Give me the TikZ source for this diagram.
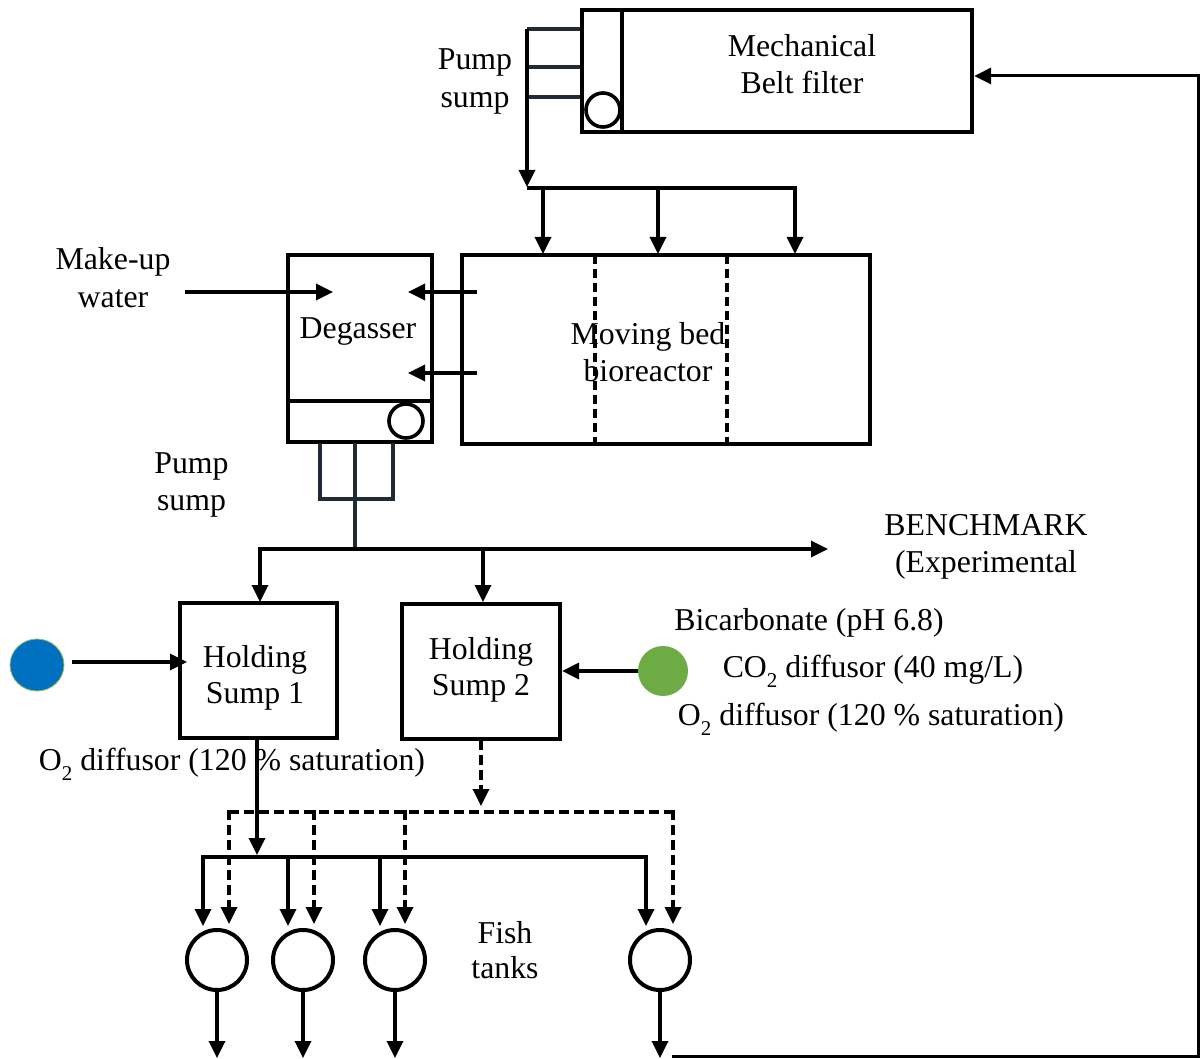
\documentclass[tikz,border=0pt]{standalone}
\usepackage{fontspec}
\setmainfont{Liberation Serif}
\usetikzlibrary{arrows.meta,shapes.geometric}
\definecolor{blueO}{HTML}{0070C0}
\definecolor{greenedge}{HTML}{9BBB59}
\definecolor{greenC}{HTML}{6DAB45}
\definecolor{pipecol}{HTML}{222A35}
\newcommand{\subtwo}{\raisebox{-0.32em}{\fontsize{21}{21}\selectfont 2}}
\begin{document}
\begin{tikzpicture}[x=1pt,y=-1pt,
  every node/.style={font=\fontsize{31.8}{37}\selectfont},
  box/.style={draw, line width=4.2pt, inner sep=0pt},
  lbl/.style={align=center, text height=21pt, text depth=7pt, inner sep=0pt},
  conn/.style={line width=3.4pt, -{Triangle[length=17pt,width=16pt]}},
  solidline/.style={line width=3.4pt},
  dconn/.style={conn, dash pattern=on 10pt off 5pt},
  dashline/.style={line width=3.4pt, dash pattern=on 10pt off 5pt},
  pipe/.style={line width=3.2pt, draw=pipecol},
  pumpc/.style={circle, draw, line width=3.6pt, minimum size=34pt, inner sep=0pt},
  tank/.style={circle, draw, line width=4pt, minimum size=60pt, inner sep=0pt},
]
\useasboundingbox (0,0) rectangle (1203,1059);

% ---------- Mechanical belt filter ----------
\node[box, minimum width=390pt, minimum height=122pt] (belt) at (777,71) {};
\draw[line width=4.2pt] (622,10) -- (622,132);
\node[pumpc] (pump1) at (603,110) {};
\node[lbl] (beltlbl) at (802,87) {Mechanical\\Belt filter};
\node[lbl, font=\fontsize{31.8}{38}\selectfont] (ps1lbl) at (475,101) {Pump\\sump};
\coordinate (pa) at (527,29);
\coordinate (pb) at (527,67);
\coordinate (pc) at (527,97);
\draw[pipe] (pa) -- (belt.west |- pa);
\draw[pipe] (pb) -- (belt.west |- pb);
\draw[pipe] (pc) -- (belt.west |- pc);
\coordinate (hdr) at (527,188);
\draw[conn] (pa) -- (527,187);
\draw[solidline] (hdr) -- (795,188);

% ---------- Moving bed bioreactor ----------
\node[box, minimum width=408pt, minimum height=189pt] (mbbr) at (666,349.5) {};
\draw[line width=3.4pt, dash pattern=on 9pt off 5pt] (595,255) -- (595,444);
\draw[line width=3.4pt, dash pattern=on 9pt off 5pt] (727,255) -- (727,444);
\node[lbl] (mbbrlbl) at (648,375) {Moving bed\\bioreactor};
\draw[conn] (543,186.3) -- (543,254);
\draw[conn] (658,186.3) -- (658,254);
\draw[conn] (795,186.3) -- (795,254);

% ---------- Degasser ----------
\node[box, minimum width=144pt, minimum height=187pt] (degas) at (360,348.5) {};
\draw[line width=4.2pt] (288,401) -- (432,401);
\node[pumpc] (pump2) at (406,421) {};
\node[lbl] (deglbl) at (358,332) {Degasser};
\node[lbl, font=\fontsize{31.8}{38}\selectfont] (mulbl) at (113,301) {Make-up\\water};
\coordinate (mu) at (185,292);
\draw[conn] (mu) -- (333,292);
\draw[conn] (477,292) -- (408,292);
\draw[conn] (477,373) -- (408,373);

% pipes below degasser
\node[lbl, font=\fontsize{31.8}{37}\selectfont] (ps2lbl) at (191.5,503) {Pump\\sump};
\draw[pipe] (320,443) -- (320,499) -- (393,499) -- (393,443);
\draw[pipe] (355,443) -- (355,549);
\coordinate (hdr2) at (260,549);
\draw[conn] (hdr2) -- (828,549);
\node[lbl, font=\fontsize{31.8}{37}\selectfont] (bench) at (986,565) {BENCHMARK\\(Experimental};

% ---------- Holding sumps ----------
\node[box, minimum width=157pt, minimum height=135pt] (hs1) at (258.5,670.5) {};
\node[box, minimum width=158pt, minimum height=135pt] (hs2) at (481,671.5) {};
\node[lbl, font=\fontsize{31.8}{36}\selectfont] (hs1lbl) at (255,696) {Holding\\Sump 1};
\node[lbl, font=\fontsize{31.8}{36}\selectfont] (hs2lbl) at (481,688) {Holding\\Sump 2};
\draw[conn] (260,547.3) -- (260,602);
\draw[conn] (483,547.3) -- (483,602);

\node[ellipse, fill=blueO, draw=greenedge, line width=0.8pt, minimum width=54pt, minimum height=52pt, inner sep=0pt] (o2a) at (37,665) {};
\draw[conn] (72,662) -- (187,662);
\node[circle, fill=greenC, minimum size=50pt, inner sep=0pt] (co2) at (663,671) {};
\draw[conn] (co2.west) -- (hs2.east |- co2.west);

\node[lbl] (bic) at (809,623) {Bicarbonate (pH 6.8)};
\node[lbl] (co2lbl) at (873,670) {CO\subtwo{} diffusor (40 mg/L)};
\node[lbl] (o2rlbl) at (871,718) {O\subtwo{} diffusor (120 \% saturation)};

% ---------- Distribution to fish tanks ----------
\draw[conn] (257,738) -- (257,855);
\draw[solidline] (203,857) -- (646,857);
\draw[dconn] (481,740) -- (481,806);
\draw[dashline] (229,812) -- (673,812);
\node[lbl] (o2llbl) at (232,763) {O\subtwo{} diffusor (120 \% saturation)};

\node[tank] (t1) at (217,960) {};
\node[tank] (t2) at (303,960) {};
\node[tank] (t3) at (395,960) {};
\node[tank] (t4) at (660,960) {};
\node[lbl, font=\fontsize{31.8}{35}\selectfont] (fish) at (505,971) {Fish\\tanks};

\foreach \x in {203,288,380,646} \draw[conn] (\x,855.3) -- (\x,926);
\foreach \x in {229,314,405,673} \draw[dconn] (\x,810.3) -- (\x,924);

\foreach \t in {t1,t2,t3,t4} \draw[conn] (\t.south) -- ++(0,66);

% ---------- Return line ----------
\coordinate (r0) at (672,1056);
\coordinate (r1) at (1198,1056);
\coordinate (r2) at (1198,76);
\draw[line width=3pt, line join=miter, -{Triangle[length=17pt,width=16pt]}] (r0) -- (r1) -- (r2) -- (belt.east |- r2);
\end{tikzpicture}
\end{document}
